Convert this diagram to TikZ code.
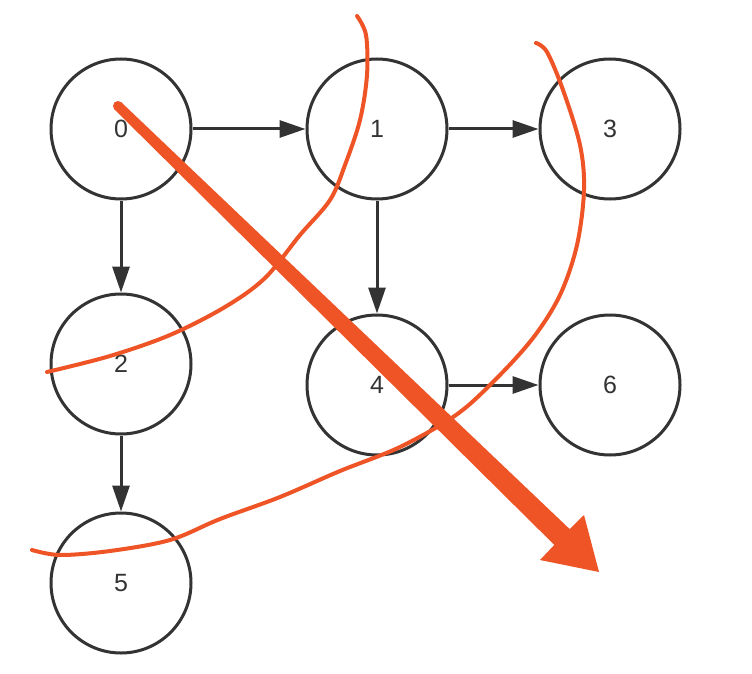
\documentclass[tikz,border=0pt]{standalone}
\usepackage{fontspec}
\setmainfont{Liberation Sans}
\usetikzlibrary{arrows.meta}
\definecolor{ink}{HTML}{333333}
\definecolor{pen}{HTML}{EE5426}
\begin{document}
\begin{tikzpicture}[x=1pt,y=-1pt,
  vertex/.style={circle,draw=ink,line width=3pt,minimum size=140pt,inner sep=0pt,text=ink,font=\fontsize{25}{25}\selectfont},
  edge/.style={draw=ink,line width=3pt,-{Triangle[length=26pt,width=17pt]}},
  penline/.style={draw=pen,line width=4pt,line cap=round,line join=round}]
\fill[white] (0,0) rectangle (752,674);
\useasboundingbox (0,0) rectangle (752,674);
\node[vertex] (n0) at (121,129) {0};
\node[vertex] (n1) at (377,129) {1};
\node[vertex] (n3) at (610,129) {3};
\node[vertex] (n2) at (121,364) {2};
\node[vertex] (n4) at (377,385) {4};
\node[vertex] (n6) at (610,385) {6};
\node[vertex] (n5) at (121,583) {5};
\draw[edge] (n0) -- (n1);
\draw[edge] (n1) -- (n3);
\draw[edge] (n0) -- (n2);
\draw[edge] (n2) -- (n5);
\draw[edge] (n1) -- (n4);
\draw[edge] (n4) -- (n6);
% big red arrow
\fill[pen] (118,106) circle (5);
\fill[pen] (121.5,102.5) -- (569.7,529.1) -- (584,515) -- (599,572) -- (540,560) -- (554.3,544.9) -- (114.5,109.5) -- cycle;
% hand-drawn curves
\draw[penline] plot[smooth,tension=0.55] coordinates {(357,16) (366,35) (367,75) (360,120) (345,165) (330,200) (300,235) (265,278) (225,307) (170,335) (110,356) (47,372)};
\draw[penline] plot[smooth,tension=0.55] coordinates {(536,43) (547,52) (563,90) (580,145) (584,190) (577,245) (560,295) (533,338) (495,380) (456,415) (400,447) (340,471) (280,497) (220,519) (170,540) (110,551) (60,555) (32,550)};
\end{tikzpicture}
\end{document}
